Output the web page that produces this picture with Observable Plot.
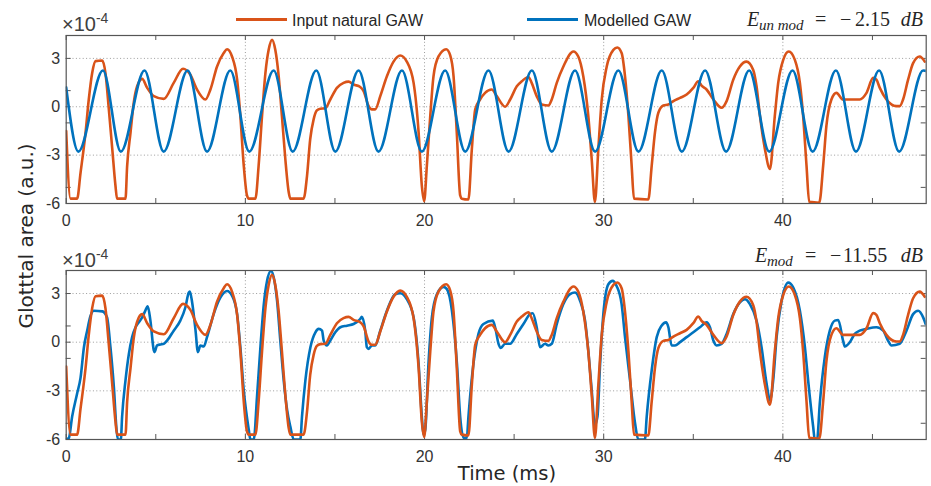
<!DOCTYPE html>
<html><head><meta charset="utf-8">
<script src="https://cdn.jsdelivr.net/npm/d3@7"></script>
<script src="https://cdn.jsdelivr.net/npm/@observablehq/plot@0.6"></script>
<style>
body{margin:0;background:#fff;}
#wrap{position:relative;width:931px;height:486px;overflow:hidden;}
.pane{position:absolute;left:0;}
#ov{position:absolute;left:0;top:0;pointer-events:none;}
</style></head><body><div id="wrap"><div class="pane" id="p1" style="top:0"></div><div class="pane" id="p2" style="top:235px"></div></div>
<script>
// ---- axes ----
const xTicks = [0, 10, 20, 30, 40];
const xMinor = [5, 15, 25, 35, 45];
const yTicks = [-6, -3, 0, 3];
const yMinor = [-5, -1, 1];
const xDomain = [0, 48];
const yDomain = [-6, 4.42];

// ---- texts ----
const legendLabels = ["Input natural GAW", "Modelled GAW"];
const seriesColors = ["#D95319", "#0072BD"];
const xLabel = "Time (ms)";
const yLabel = "Glotttal area (a.u.)";
const scaleLabel = ["×10", "-4"];
const errLabels = [
  {sub: "un mod", value: "2.15"},
  {sub: "mod", value: "11.55"}
];

// ---- input natural GAW (×1e-4) ----
const naturalT = [0.00,0.24,0.61,0.80,1.08,1.26,1.45,1.64,2.01,2.19,2.38,2.57,2.75,2.84,3.31,3.40,3.59,3.77,3.96,4.24,4.52,4.89,5.45,6.00,6.52,6.93,7.30,7.77,8.05,8.42,8.79,8.98,9.26,9.54,9.72,9.91,10.09,10.19,10.56,10.74,10.93,11.12,11.30,11.49,11.67,11.86,12.04,12.23,12.42,12.51,13.25,13.44,13.62,13.81,13.99,14.18,14.46,14.74,15.11,15.48,15.76,16.04,16.41,16.60,16.88,17.06,17.25,17.53,17.90,18.27,18.64,19.01,19.39,19.67,19.85,19.98,20.13,20.32,20.50,20.78,21.21,21.43,21.62,21.80,21.99,22.08,22.45,22.64,22.83,23.10,23.38,23.75,24.03,24.50,24.78,25.15,25.43,25.80,25.98,26.26,26.54,26.91,27.10,27.38,27.75,28.31,28.58,28.86,29.14,29.33,29.51,29.70,29.89,30.17,30.54,30.76,31.00,31.19,31.38,31.56,31.69,32.49,32.68,32.86,33.05,33.33,33.61,33.89,34.26,34.63,35.00,35.28,35.46,35.74,36.12,36.58,36.86,37.23,37.60,37.97,38.34,38.53,38.72,39.00,39.28,39.55,39.74,40.02,40.33,40.67,40.95,41.13,41.32,41.47,42.03,42.25,42.43,42.71,42.99,43.36,44.29,44.67,45.04,45.22,45.41,45.78,46.34,46.52,46.71,46.99,47.27,47.64,47.92];
const naturalV = [-1.5,-5.7,-5.7,-4.1,-1.6,0.45,2.1,2.83,2.87,2.1,-0.16,-2.6,-4.9,-5.7,-5.7,-3.7,-1.6,0.25,1.27,1.73,1.17,0.66,0.49,1.48,2.36,1.99,1.07,0.45,1.07,2.5,3.33,3.57,3.1,1.68,-0.57,-3.65,-5.5,-5.7,-5.7,-3.65,-0.57,2.1,3.53,4.15,3.53,1.89,-0.57,-3.24,-5.3,-5.7,-5.7,-4.3,-2.0,-0.78,-0.23,-0.12,-0.1,0.45,1.17,1.48,1.56,1.38,1.23,0.97,0.04,-0.16,-0.16,0.66,1.89,2.8,3.18,2.8,1.48,-1.6,-4.9,-5.85,-3.65,-0.57,1.89,3.12,3.57,3.2,1.89,-1.6,-5.5,-5.7,-5.75,-2.63,-0.16,0.45,0.86,1.07,0.66,0.0,0.45,1.27,1.58,1.85,1.48,0.66,0.14,0.08,0.45,1.48,2.5,3.43,3.12,1.89,-0.57,-3.24,-5.9,-2.63,0.45,2.5,3.53,3.68,3.33,1.89,-0.57,-3.65,-5.7,-5.75,-3.65,-1.6,-0.37,0.08,0.14,0.35,0.55,0.76,1.17,1.58,1.31,1.07,0.45,-0.06,0.35,1.68,2.5,2.8,2.3,1.27,-0.57,-2.63,-3.86,-0.57,1.48,2.91,3.43,2.91,1.48,-0.57,-3.65,-5.9,-5.95,-3.65,-1.19,0.45,0.86,0.45,0.45,0.86,1.79,1.68,1.17,0.45,0.04,0.04,0.45,1.68,2.71,3.12,2.8];

// ---- unmodified model (top panel) ----
const unmodT = [0,0.68,2.05,3.05,4.37,5.44,6.78,7.86,9.16,10.22,11.58,12.64,13.96,15.02,16.32,17.43,18.74,19.85,21.15,22.27,23.57,24.69,25.99,27.1,28.4,29.52,30.82,31.94,33.24,34.36,35.66,36.83,38.12,39.24,40.54,41.66,42.96,44.08,45.37,46.49,47.83,48];
const unmodV = [1.2,-2.78,2.25,-2.78,2.25,-2.78,2.25,-2.78,2.25,-2.78,2.25,-2.78,2.25,-2.78,2.25,-2.78,2.25,-2.78,2.25,-2.78,2.25,-2.78,2.25,-2.78,2.25,-2.78,2.25,-2.78,2.25,-2.78,2.25,-2.78,2.25,-2.78,2.25,-2.78,2.25,-2.78,2.25,-2.78,2.25,2.22];

// ---- modified model (bottom panel) ----
const modT = [0.00,0.15,0.33,0.61,0.80,0.99,1.17,1.36,1.54,2.02,2.28,2.47,2.66,2.81,2.89,3.05,3.12,3.31,3.50,3.68,3.87,4.05,4.24,4.40,4.55,4.70,4.89,4.93,5.07,5.26,5.45,5.63,6.00,6.37,6.65,6.84,6.90,7.03,7.22,7.35,7.49,7.68,7.86,8.23,8.61,8.98,9.26,9.54,9.72,9.91,10.19,10.28,10.47,10.65,10.84,11.03,11.21,11.43,11.58,11.77,11.95,12.14,12.33,12.51,12.70,13.07,13.16,13.35,13.63,13.91,14.09,14.28,14.37,14.55,14.74,15.02,15.30,15.67,16.04,16.41,16.50,16.69,16.78,16.88,17.06,17.25,17.53,17.90,18.36,18.64,19.01,19.39,19.67,19.85,19.94,20.04,20.22,20.41,20.69,21.06,21.25,21.53,21.81,21.99,22.18,22.36,22.45,22.73,23.01,23.29,23.81,23.94,24.13,24.26,24.50,24.78,25.15,25.52,25.89,26.04,26.26,26.45,26.73,26.91,27.10,27.38,27.75,28.12,28.40,28.68,28.96,29.14,29.33,29.51,29.65,29.80,29.98,30.26,30.50,30.72,31.00,31.19,31.47,31.75,31.93,32.30,32.40,32.68,32.96,33.23,33.48,33.61,33.79,33.98,34.26,34.63,35.00,35.37,35.74,35.93,36.12,36.30,36.58,36.86,37.23,37.60,37.88,38.16,38.53,38.81,39.09,39.28,39.46,39.65,39.93,40.30,40.58,40.95,41.23,41.41,41.69,41.78,41.91,42.06,42.34,42.62,42.90,43.09,43.36,43.46,43.74,44.01,44.29,44.67,45.22,45.60,45.87,46.06,46.52,46.90,47.27,47.55,47.83,47.97];
const modV = [-6.0,-5.9,-4.6,-3.16,-2.2,-0.31,0.71,1.63,1.94,1.9,1.53,-0.31,-2.76,-5.4,-6.0,-6.0,-4.6,-2.35,-0.71,0.31,0.92,1.22,1.53,1.9,2.22,1.33,-0.51,-0.61,-0.2,-0.14,-0.1,0.1,0.71,1.33,2.14,3.06,3.12,2.45,0.71,-0.61,-0.2,-0.27,0.31,1.73,2.76,3.16,2.86,1.73,-0.31,-2.96,-5.4,-6.0,-6.0,-3.37,-0.31,2.35,3.78,4.39,4.0,2.55,0.1,-2.35,-4.18,-5.2,-6.0,-6.0,-4.6,-2.35,-0.31,0.61,0.82,0.71,0.1,-0.2,0.1,0.61,0.92,1.02,1.12,1.43,1.57,0.71,-0.31,-0.41,-0.2,-0.2,0.71,1.94,2.96,3.02,2.65,1.53,-1.33,-4.6,-5.7,-5.4,-1.33,1.53,2.96,3.41,3.27,1.94,-1.33,-4.6,-5.9,-5.9,-4.6,-1.33,0.51,1.12,1.33,0.92,-0.1,-0.35,-0.1,-0.1,0.51,1.12,1.73,1.78,0.92,-0.31,-0.1,-0.2,-0.1,1.12,2.35,2.96,3.06,2.55,1.33,-0.51,-2.96,-5.1,-4.6,-1.33,1.73,3.57,3.78,3.47,2.35,0.31,-2.35,-5.0,-6.0,-6.0,-4.6,-1.73,0.31,1.02,1.22,0.92,-0.2,-0.2,0.0,0.31,0.61,0.92,1.22,0.92,0.1,-0.2,-0.1,0.51,1.73,2.45,2.65,2.35,1.33,-0.31,-2.55,-3.57,-2.35,0.31,2.55,3.67,3.37,1.94,-0.31,-2.35,-5.2,-6.0,-6.0,-3.78,-0.92,0.71,1.33,1.37,0.1,-0.27,0.0,0.51,0.71,0.82,0.92,0.71,0.1,-0.2,-0.1,0.71,1.73,1.94,1.53,1.12];

const toRows = (T, V) => T.map((t, i) => ({t, v: V[i]}));
const natural = toRows(naturalT, naturalV);
const unmod = toRows(unmodT, unmodV);
const mod = toRows(modT, modV);

const W = 931, ML = 65.7, MR = 5.3;
const innerW = W - ML - MR;
const axisColor = "#555555";
const gridStyle = {stroke: "#9c9c9c", strokeDasharray: "1,2.4", strokeWidth: 1};

function panel(height, marginTop, marginBottom, lines) {
  const innerH = height - marginTop - marginBottom;
  const xAll = xTicks.concat(xMinor), yAll = yTicks.concat(yMinor);
  return Plot.plot({
    width: W, height, marginLeft: ML, marginRight: MR, marginTop, marginBottom,
    style: {fontFamily: "'Liberation Sans', Arial, sans-serif", fontSize: "16px", color: "#333", background: "transparent", overflow: "visible"},
    x: {domain: xDomain, label: null},
    y: {domain: yDomain, label: null},
    marks: [
      Plot.ruleX(xTicks.slice(1), gridStyle),
      Plot.ruleY(yTicks.slice(1), gridStyle),
      Plot.ruleX(xAll, {x: d => d, insetTop: innerH - 5, stroke: axisColor}),
      Plot.ruleX(xAll, {x: d => d, insetBottom: innerH - 5, stroke: axisColor}),
      Plot.ruleY(yAll, {y: d => d, insetRight: innerW - 5, stroke: axisColor}),
      Plot.ruleY(yAll, {y: d => d, insetLeft: innerW - 5, stroke: axisColor}),
      ...lines.map(([data, color]) => Plot.line(data, {x: "t", y: "v", stroke: color, strokeWidth: 2.6, curve: "monotone-x", clip: true})),
      Plot.frame({stroke: axisColor, strokeWidth: 1.2}),
      Plot.axisX({ticks: xTicks, tickSize: 0, tickPadding: 11, tickFormat: d => String(d)}),
      Plot.axisY({ticks: yTicks, tickSize: 0, tickPadding: 6, tickFormat: d => String(d)})
    ]
  });
}

document.getElementById("p1").append(panel(230, 35, 27, [[natural, seriesColors[0]], [unmod, seriesColors[1]]]));
document.getElementById("p2").append(panel(251, 35, 47, [[mod, seriesColors[1]], [natural, seriesColors[0]]]));

// ---- overlay: legend, labels, annotations ----
const ov = d3.select("#wrap").append("svg").attr("id", "ov").attr("width", W).attr("height", 486);
const sans = "'Liberation Sans', Arial, sans-serif";
const serif = "'Liberation Serif', 'DejaVu Serif', serif";
const legendX = [[236, 287, 292], [527, 578, 584]];
legendLabels.forEach((lab, i) => {
  const [x1, x2, tx] = legendX[i];
  ov.append("line").attr("x1", x1).attr("x2", x2).attr("y1", 19.5).attr("y2", 19.5)
    .attr("stroke", seriesColors[i]).attr("stroke-width", 3);
  ov.append("text").attr("x", tx).attr("y", 25.5).attr("font-family", sans)
    .attr("font-size", 16).attr("fill", "#262626").text(lab);
});
[30.5, 266.5].forEach(y => {
  const t = ov.append("text").attr("x", 62).attr("y", y).attr("font-family", sans)
    .style("font-size", "20px").attr("fill", "#404040");
  t.append("tspan").text(scaleLabel[0]);
  t.append("tspan").attr("dy", -8).style("font-size", "14px").text(scaleLabel[1]);
});
// error annotations, pieces placed like the reference equation
const errPos = [
  {y: 26, e: 747, sub: 759, eq: 815, minus: 840, num: 855},
  {y: 261.5, e: 755, sub: 767, eq: 805, minus: 830, num: 843}
];
errLabels.forEach((lab, i) => {
  const p = errPos[i];
  const add = (x, y, txt, size, italic, anchor) => ov.append("text").attr("x", x).attr("y", y)
    .attr("font-family", serif).attr("font-size", size).attr("font-style", italic ? "italic" : "normal")
    .attr("text-anchor", anchor || "start").attr("fill", "#262626").text(txt);
  add(p.e, p.y, "E", 20, true);
  add(p.sub, p.y + 4, lab.sub, 15, true);
  add(p.eq, p.y, "=", 20, false);
  add(p.minus, p.y, "−", 20, false);
  add(p.num, p.y, lab.value, 20, false);
  add(923, p.y, "dB", 20, true, "end");
});
ov.append("text").attr("x", 507).attr("y", 480).attr("text-anchor", "middle")
  .attr("font-family", "'DejaVu Sans', sans-serif").attr("font-size", 19.5).attr("fill", "#262626").text(xLabel);
ov.append("text").attr("transform", "translate(33,236) rotate(-90)").attr("text-anchor", "middle")
  .attr("font-family", "'DejaVu Sans', sans-serif").attr("font-size", 20).attr("fill", "#262626").text(yLabel);
</script></body></html>
